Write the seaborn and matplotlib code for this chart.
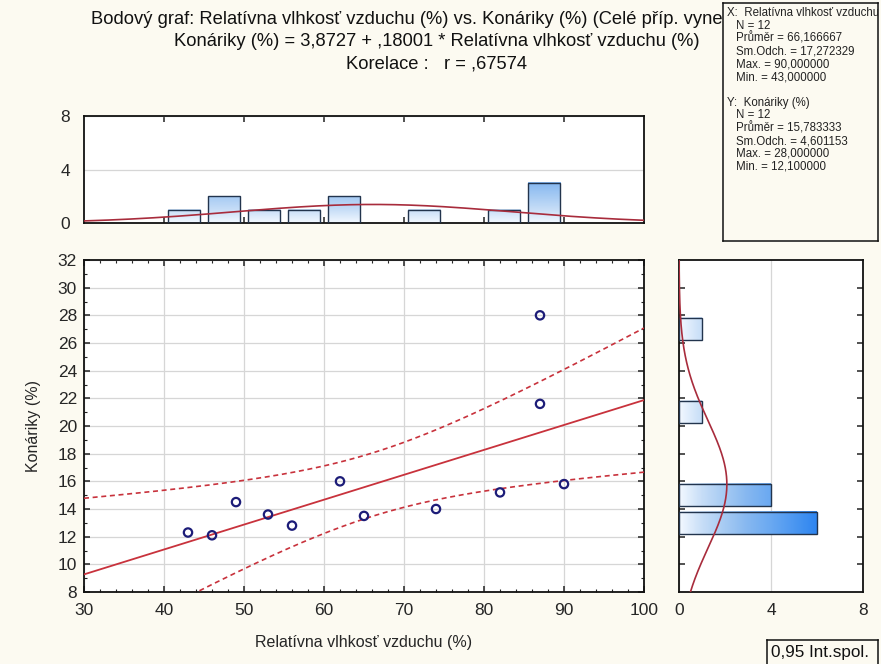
import numpy as np
import pandas as pd
import matplotlib
matplotlib.use("Agg")
import matplotlib.pyplot as plt
import seaborn as sns
from matplotlib.colors import LinearSegmentedColormap
from matplotlib.ticker import MultipleLocator

# ---------------- data ----------------
vlhkost = [43, 46, 49, 53, 56, 62, 65, 74, 82, 87, 87, 90]
konariky = [12.3, 12.1, 14.5, 13.6, 12.8, 16.0, 13.5, 14.0, 15.2, 28.0, 21.6, 15.8]
x_bin_edges = [40, 45, 50, 55, 60, 65, 70, 75, 80, 85, 90]
y_bin_edges = [12, 14, 16, 18, 20, 22, 24, 26, 28]
x_ticks = [30, 40, 50, 60, 70, 80, 90, 100]
y_ticks = [8, 10, 12, 14, 16, 18, 20, 22, 24, 26, 28, 30, 32]
hist_ticks = [0, 4, 8]

title1 = "Bodový graf: Relatívna vlhkosť vzduchu (%) vs. Konáriky (%) (Celé příp. vynechána ChD)"
title2 = "Konáriky (%) = 3,8727 + ,18001 * Relatívna vlhkosť vzduchu (%)"
title3 = "Korelace :   r = ,67574"
xlabel = "Relatívna vlhkosť vzduchu (%)"
ylabel = "Konáriky (%)"
stats_x = ["X:  Relatívna vlhkosť vzduchu (%)", "N = 12", "Průměr = 66,166667",
           "Sm.Odch. = 17,272329", "Max. = 90,000000", "Min. = 43,000000"]
stats_y = ["Y:  Konáriky (%)", "N = 12", "Průměr = 15,783333",
           "Sm.Odch. = 4,601153", "Max. = 28,000000", "Min. = 12,100000"]
legend_text = "0,95 Int.spol."

# ---------------- style ----------------
sns.set_theme(style="white")
plt.rcParams['font.family'] = ['Liberation Sans', 'DejaVu Sans']
BG = '#fcfaf1'
RED = '#c8323c'
CURVE = '#a82c3c'
EDGE = '#22344d'
W, H = 881, 664

fig = plt.figure(figsize=(W / 100, H / 100), dpi=100, facecolor=BG)

def px_axes(x0, y0, x1, y1, **kw):
    return fig.add_axes([x0 / W, 1 - y1 / H, (x1 - x0) / W, (y1 - y0) / H], **kw)

ax = px_axes(84, 260, 644, 592)
axt = px_axes(84, 116, 644, 223)
axr = px_axes(679, 260, 863, 592)

xa = np.array(vlhkost, float)
ya = np.array(konariky, float)
n = len(xa)

# ---------------- main scatter ----------------
sns.scatterplot(x=xa, y=ya, ax=ax, s=36, marker='o', facecolors='none',
                edgecolors='#1c1c78', linewidths=1.6, zorder=5)

b1, b0 = np.polyfit(xa, ya, 1)
xg = np.linspace(30, 100, 300)
yhat = b0 + b1 * xg
resid = ya - (b0 + b1 * xa)
s = np.sqrt(np.sum(resid ** 2) / (n - 2))
sxx = np.sum((xa - xa.mean()) ** 2)
tval = 2.228139
marg = tval * s * np.sqrt(1 / n + (xg - xa.mean()) ** 2 / sxx)
ax.plot(xg, yhat, color=RED, lw=1.3, zorder=4)
ax.plot(xg, yhat + marg, color=RED, lw=1.2, ls=(0, (3, 2.2)), zorder=4)
ax.plot(xg, yhat - marg, color=RED, lw=1.2, ls=(0, (3, 2.2)), zorder=4)

ax.set_xlim(30, 100)
ax.set_ylim(8, 32)
ax.set_xticks(x_ticks)
ax.set_yticks(y_ticks)
ax.xaxis.set_minor_locator(MultipleLocator(2))
ax.yaxis.set_minor_locator(MultipleLocator(1))
ax.grid(True, which='major', color='#d6d6d6', lw=0.9)
ax.set_axisbelow(True)
ax.set_xlabel(xlabel, fontsize=11.5, labelpad=12)
ax.set_ylabel(ylabel, fontsize=11.5, labelpad=12)

def style_ax(a):
    a.set_facecolor('white')
    for sp in a.spines.values():
        sp.set_visible(True)
        sp.set_color('#111111')
        sp.set_linewidth(1.3)
    a.tick_params(which='both', direction='in', top=True, right=True,
                  bottom=True, left=True, color='#222222', labelsize=12.5)
    a.tick_params(which='major', length=4, width=1.1)
    a.tick_params(which='minor', length=2.5, width=0.8)
    a.tick_params(axis='x', which='both', pad=8)
    a.tick_params(axis='y', which='both', pad=5)

style_ax(ax)

# ---------------- gradient helper ----------------
cmap = LinearSegmentedColormap.from_list(
    'bars', [(0.0, '#f2f8ff'), (1 / 6, '#c6ddf7'), (2 / 6, '#a5caf3'), (3 / 6, '#85b7f0'),
             (4 / 6, '#6aa9f2'), (1.0, '#2f86f0')])
norm = plt.Normalize(0, 6.0)

def gradient_bars(a, vertical=True):
    for p in list(a.patches):
        x0, y0, w, h = p.get_x(), p.get_y(), p.get_width(), p.get_height()
        val = h if vertical else w
        if val <= 0:
            p.set_visible(False)
            continue
        if vertical:
            grad = np.linspace(0, h, 80).reshape(-1, 1)
        else:
            grad = np.linspace(0, w, 80).reshape(1, -1)
        a.imshow(grad, cmap=cmap, norm=norm, extent=(x0, x0 + w, y0, y0 + h),
                 origin='lower', aspect='auto', zorder=2, interpolation='bilinear')
        p.set_facecolor('none')
        p.set_zorder(3)

# ---------------- top histogram ----------------
sns.histplot(x=xa, bins=np.array(x_bin_edges, float) + 1e-6, shrink=0.82, ax=axt,
             color='#8fbdf0', edgecolor=EDGE, linewidth=1.0, alpha=1)
gradient_bars(axt, vertical=True)
xn = np.linspace(30, 100, 300)
pdf_x = np.exp(-0.5 * ((xn - xa.mean()) / xa.std(ddof=1)) ** 2) / (xa.std(ddof=1) * np.sqrt(2 * np.pi))
axt.plot(xn, pdf_x * n * 5, color=CURVE, lw=1.2, zorder=4)
axt.set_xlim(30, 100)
axt.set_ylim(0, 8)
axt.set_yticks(hist_ticks)
axt.set_xticks(x_ticks[1:-1])
axt.set_xticklabels([])
axt.set_xlabel('')
axt.set_ylabel('')
axt.yaxis.grid(True, color='#d6d6d6', lw=0.9)
axt.set_axisbelow(True)
style_ax(axt)
axt.tick_params(axis='y', which='both', left=False, right=False)
axt.tick_params(axis='y', labelsize=12.5, pad=10)

# ---------------- right histogram ----------------
sns.histplot(y=ya, bins=np.array(y_bin_edges, float) + 1e-6, shrink=0.8, ax=axr,
             color='#8fbdf0', edgecolor=EDGE, linewidth=1.0, alpha=1)
gradient_bars(axr, vertical=False)
yn = np.linspace(8, 32, 300)
pdf_y = np.exp(-0.5 * ((yn - ya.mean()) / ya.std(ddof=1)) ** 2) / (ya.std(ddof=1) * np.sqrt(2 * np.pi))
axr.plot(pdf_y * n * 2, yn, color=CURVE, lw=1.2, zorder=4)
axr.set_ylim(8, 32)
axr.set_xlim(0, 8)
axr.set_xticks(hist_ticks)
axr.set_yticks(y_ticks[1:-1])
axr.set_yticklabels([])
axr.set_xlabel('')
axr.set_ylabel('')
axr.xaxis.grid(True, color='#d6d6d6', lw=0.9)
axr.set_axisbelow(True)
style_ax(axr)
axr.tick_params(axis='x', which='both', bottom=False, top=False)

# ---------------- titles ----------------
fs_t = 13.2
fig.text(91 / W, 1 - 20 / H, title1, ha='left', va='center', fontsize=fs_t, color='#111111')
fig.text(437 / W, 1 - 42 / H, title2, ha='center', va='center', fontsize=fs_t, color='#111111')
fig.text(437 / W, 1 - 64 / H, title3, ha='center', va='center', fontsize=fs_t, color='#111111')

# ---------------- stats box ----------------
bx0, by0, bx1, by1 = 723, 3, 878, 241
axs = px_axes(bx0, by0, bx1, by1)
axs.set_zorder(10)
axs.set_facecolor(BG)
axs.set_xticks([])
axs.set_yticks([])
for sp in axs.spines.values():
    sp.set_visible(True)
    sp.set_color('#111111')
    sp.set_linewidth(1.1)
line_h = 12.8
bw, bh = bx1 - bx0, by1 - by0
for block, start in ((stats_x, 0), (stats_y, 7)):
    for j, t in enumerate(block):
        xoff = 4 if j == 0 else 13
        axs.text(xoff / bw, 1 - (10 + (start + j) * line_h) / bh, t, transform=axs.transAxes,
                 ha='left', va='center', fontsize=8.3, color='#222222', clip_on=True)

# ---------------- legend box ----------------
axl = px_axes(767, 640, 878, 670)
axl.set_zorder(10)
axl.set_facecolor(BG)
axl.set_xticks([])
axl.set_yticks([])
for sp in axl.spines.values():
    sp.set_visible(True)
    sp.set_color('#111111')
    sp.set_linewidth(1.1)
axl.text(4 / 111, 1 - 13 / 30, legend_text, transform=axl.transAxes, ha='left', va='center',
         fontsize=12.3, color='#111111')

fig.savefig('out.png', dpi=100, facecolor=BG)
